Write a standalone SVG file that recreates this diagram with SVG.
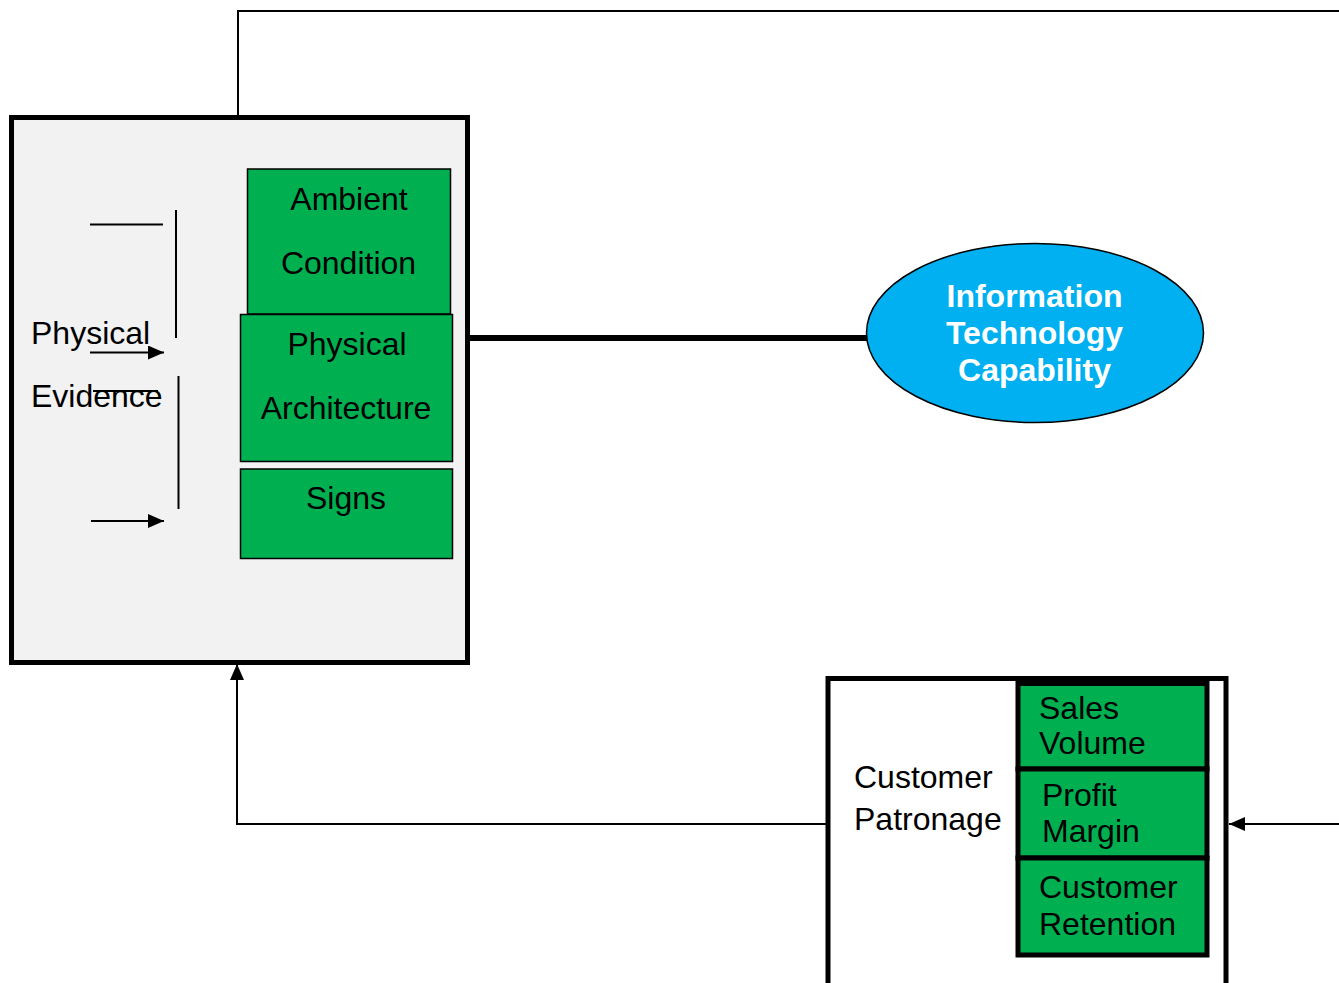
<svg xmlns="http://www.w3.org/2000/svg" width="1339" height="983" viewBox="0 0 1339 983">
  <defs>
    <marker id="arrow" viewBox="0 0 16 14" refX="16" refY="7" markerWidth="16" markerHeight="14" markerUnits="userSpaceOnUse" orient="auto">
      <path d="M0,0 L16,7 L0,14 Z" fill="#000"/>
    </marker>
    <style>
      .lbl { font-family: "Liberation Sans", Arial, sans-serif; font-size: 32px; fill: #000; }
      .mid { text-anchor: middle; }
      .it { font-family: "Liberation Sans", Arial, sans-serif; font-size: 32px; font-weight: bold; fill: #fff; text-anchor: middle; }
      .green { fill: #00b050; stroke: #000; stroke-width: 1.5; }
      .greenb { fill: #00b050; stroke: #000; stroke-width: 5; }
      .thin { stroke: #000; stroke-width: 2; fill: none; }
    </style>
  </defs>
  <rect width="1339" height="983" fill="#fff"/>

  <!-- connectors -->
  <g id="connectors">
    <polyline class="thin" points="238,117 238,11 1339,11"/>
    <line x1="469" y1="338" x2="869" y2="338" stroke="#000" stroke-width="6"/>
    <polyline class="thin" points="826,824 237,824 237,664" marker-end="url(#arrow)"/>
    <line class="thin" x1="1339" y1="824" x2="1229" y2="824" marker-end="url(#arrow)"/>
  </g>

  <!-- physical evidence box -->
  <g id="physical-evidence">
    <rect x="11.5" y="117.5" width="456" height="545" fill="#f2f2f2" stroke="#000" stroke-width="5"/>
    <text class="lbl" x="31" y="344">Physical</text>
    <text class="lbl" x="31" y="407">Evidence</text>
    <line class="thin" x1="90" y1="224.5" x2="163" y2="224.5"/>
    <line class="thin" x1="176" y1="210" x2="176" y2="338"/>
    <line class="thin" x1="90" y1="352.5" x2="164" y2="352.5" marker-end="url(#arrow)"/>
    <line class="thin" x1="93" y1="391" x2="158" y2="391"/>
    <line class="thin" x1="178.5" y1="376" x2="178.5" y2="509"/>
    <line class="thin" x1="91" y1="521" x2="164" y2="521" marker-end="url(#arrow)"/>
  </g>

  <g id="ambient-condition">
    <rect class="green" x="247.5" y="169" width="203" height="145"/>
    <text class="lbl mid" x="349" y="210">Ambient</text>
    <text class="lbl mid" x="348.5" y="274">Condition</text>
  </g>

  <g id="physical-architecture">
    <rect class="green" x="240.5" y="314.5" width="212" height="147"/>
    <text class="lbl mid" x="347" y="355">Physical</text>
    <text class="lbl mid" x="346" y="419">Architecture</text>
  </g>

  <g id="signs">
    <rect class="green" x="240.5" y="469" width="212" height="89.5"/>
    <text class="lbl mid" x="346" y="509">Signs</text>
  </g>

  <!-- information technology capability -->
  <g id="it-capability">
    <ellipse cx="1035" cy="333" rx="168.5" ry="89.5" fill="#00b0f0" stroke="#000" stroke-width="1.5"/>
    <text class="it" x="1034.5" y="307">Information</text>
    <text class="it" x="1034.5" y="344">Technology</text>
    <text class="it" x="1034.5" y="381">Capability</text>
  </g>

  <!-- customer patronage box -->
  <g id="customer-patronage">
    <rect x="828" y="678.5" width="398" height="330" fill="#fff" stroke="#000" stroke-width="5"/>
    <text class="lbl" x="854" y="788">Customer</text>
    <text class="lbl" x="854" y="830">Patronage</text>
  </g>

  <g id="sales-volume">
    <rect class="greenb" x="1018" y="683.5" width="189" height="85.5"/>
    <text class="lbl" x="1039" y="719">Sales</text>
    <text class="lbl" x="1039" y="754">Volume</text>
  </g>

  <g id="profit-margin">
    <rect class="greenb" x="1018" y="769" width="189" height="89"/>
    <text class="lbl" x="1042" y="806">Profit</text>
    <text class="lbl" x="1042" y="842">Margin</text>
  </g>

  <g id="customer-retention">
    <rect class="greenb" x="1018" y="858" width="189" height="97"/>
    <text class="lbl" x="1039" y="898">Customer</text>
    <text class="lbl" x="1039" y="935">Retention</text>
  </g>
</svg>
